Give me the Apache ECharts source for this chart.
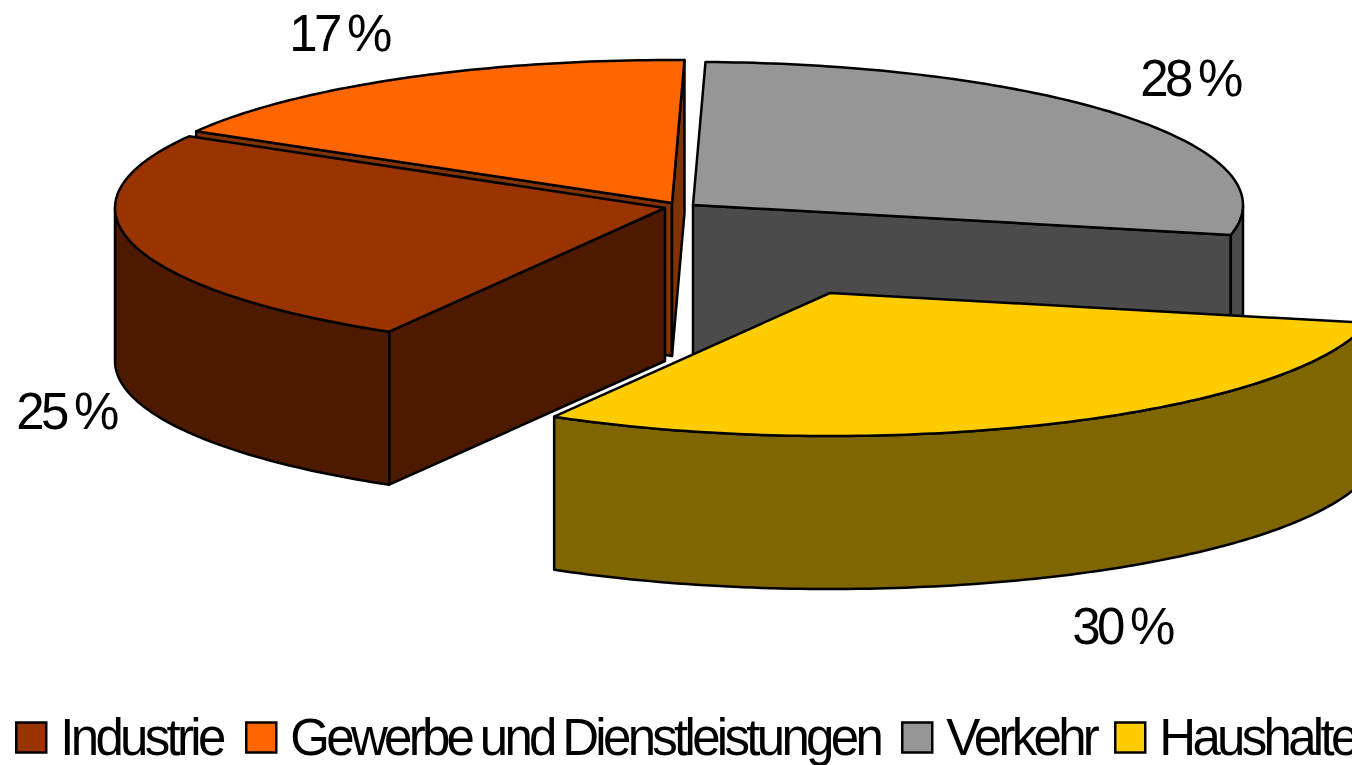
<!DOCTYPE html>
<html>
<head>
<meta charset="utf-8">
<style>
  html, body { margin: 0; padding: 0; background: #fff; }
  #chart { width: 1352px; height: 765px; }
  #chart text { letter-spacing: -3.7px; word-spacing: -2px; }
</style>
<script src="https://cdn.jsdelivr.net/npm/echarts@6/dist/echarts.min.js"></script>
</head>
<body>
<div id="chart"></div>
<script>
  // data
  const categories = ['Industrie', 'Gewerbe und Dienstleistungen', 'Verkehr', 'Haushalte']
  const shares = [25, 17, 28, 30]

  // look of the slices, same order as categories
  const topColors = ['#993300', '#ff6600', '#969696', '#ffcc00']
  const sideColors = ['#4d1a00', '#803300', '#4b4b4b', '#806600']
  const centers = [[665, 208], [672, 203], [693, 205], [830, 293]]
  const labelAt = [[66, 411], [339, 33], [1190, 78], [1122, 626]]
  const legendLeft = [15, 245, 901, 1114]
  const drawOrder = [2, 1, 0, 3]

  const startAngle = 120.1
  const rx = 550
  const ry = 143
  const depth = 153

  const chart = echarts.init(document.getElementById('chart'), null, {renderer: 'svg'})

  // slice i runs from angles[i] to angles[i + 1], clockwise on screen
  const total = shares.reduce((a, b) => a + b, 0)
  const angles = [startAngle]
  shares.forEach(function (v, i) {
    angles.push(angles[i] + v / total * 360)
  })

  function rimPoint (c, deg, dy) {
    const t = deg * Math.PI / 180
    return [c[0] + rx * Math.cos(t), c[1] + ry * Math.sin(t) + (dy || 0)]
  }

  function arc (c, a0, a1, dy) {
    const pts = []
    const steps = Math.max(2, Math.ceil(Math.abs(a1 - a0)))
    for (let k = 0; k <= steps; k++) {
      pts.push(rimPoint(c, a0 + (a1 - a0) * k / steps, dy))
    }
    return pts
  }

  function face (points, fill) {
    return {
      type: 'polygon',
      shape: {points: points},
      style: {fill: fill, stroke: '#000', lineWidth: 2.5, lineJoin: 'round'}
    }
  }

  function cutFace (c, deg, fill) {
    const p = rimPoint(c, deg)
    return face([c, p, [p[0], p[1] + depth], [c[0], c[1] + depth]], fill)
  }

  function renderSlice (i) {
    const c = centers[i]
    const a0 = angles[i]
    const a1 = angles[i + 1]
    const children = []

    // the two cut faces, only when they look towards us
    if (Math.cos(a0 * Math.PI / 180) < 0) children.push(cutFace(c, a0, sideColors[i]))
    if (Math.cos(a1 * Math.PI / 180) > 0) children.push(cutFace(c, a1, sideColors[i]))

    // outer wall, front half of the ellipse only
    for (let k = 0; k <= 360; k += 360) {
      const lo = Math.max(a0, k)
      const hi = Math.min(a1, k + 180)
      if (hi > lo) {
        children.push(face(arc(c, lo, hi, 0).concat(arc(c, hi, lo, depth)), sideColors[i]))
      }
    }

    children.push(face([c].concat(arc(c, a0, a1, 0)), topColors[i]))
    children.push({
      type: 'text',
      style: {
        text: shares[i] + ' %',
        x: labelAt[i][0],
        y: labelAt[i][1],
        fill: '#000',
        font: '51px "Liberation Sans", Arial, sans-serif',
        textAlign: 'center',
        textVerticalAlign: 'middle'
      }
    })
    return {type: 'group', children: children}
  }

  chart.setOption({
    animation: false,
    legend: categories.map(function (name, i) {
      return {
        data: [{name: name, icon: 'rect'}],
        left: legendLeft[i],
        top: 712,
        padding: 0,
        selectedMode: false,
        itemWidth: 30,
        itemHeight: 30,
        itemStyle: {borderColor: '#000', borderWidth: 2.5},
        textStyle: {
          fontFamily: '"Liberation Sans", Arial, sans-serif',
          fontSize: 51,
          color: '#000',
          padding: [0, 0, 3, 9]
        }
      }
    }),
    series: drawOrder.map(function (i) {
      return {
        type: 'custom',
        name: categories[i],
        coordinateSystem: 'none',
        silent: true,
        itemStyle: {color: topColors[i]},
        data: [shares[i]],
        renderItem: function () {
          return renderSlice(i)
        }
      }
    })
  })
</script>
</body>
</html>
